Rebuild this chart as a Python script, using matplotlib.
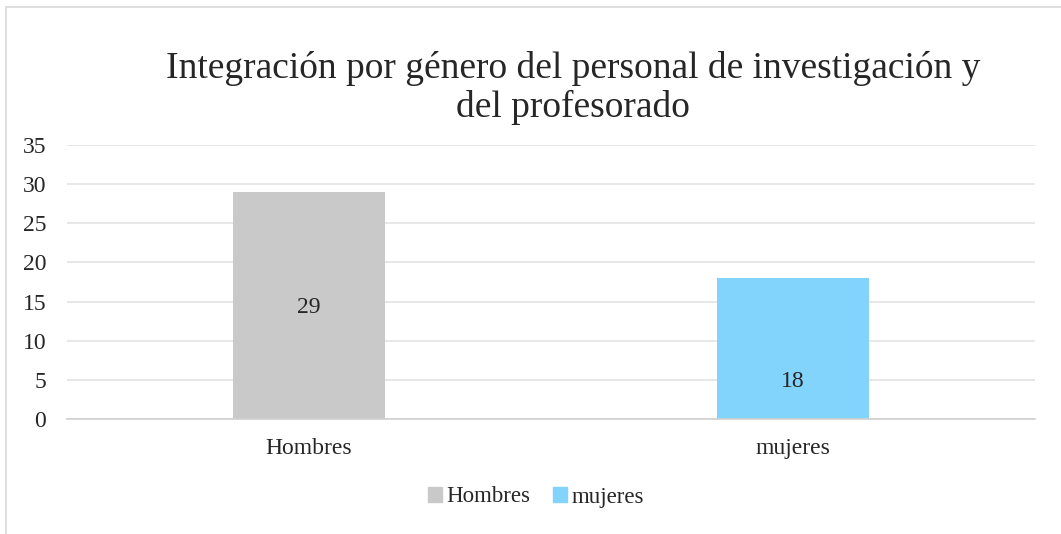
import matplotlib.pyplot as plt
from matplotlib.patches import Rectangle, Patch

categories = ['Hombres', 'mujeres']
values = [29, 18]
label_y = [14.3, 4.85]
colors = ['#c9c9c9', '#83d4fd']
yticks = [0, 5, 10, 15, 20, 25, 30, 35]

plt.rcParams['font.family'] = ['Liberation Serif', 'DejaVu Serif']

fig = plt.figure(figsize=(10.61, 5.34), dpi=100)
W, H = 1061, 534

# chart frame
fig.patches.append(Rectangle((6 / W, -0.1), 1.2, 1 - 7 / H + 0.1, transform=fig.transFigure,
                             fill=False, edgecolor='#d9d9d9', linewidth=1.2))

ax = fig.add_axes([67 / W, 1 - 419 / H, (1035 - 67) / W, (419 - 145) / H])
x = range(len(categories))
ax.bar(x, values, width=0.314, color=colors, zorder=2)
for xi, v, ly in zip(x, values, label_y):
    ax.text(xi, ly, str(v), ha='center', va='center', fontsize=17, color='#262626')

ax.set_xlim(-0.5, 1.5)
ax.set_ylim(0, 35)
ax.set_yticks(yticks)
ax.set_xticks(list(x))
ax.set_xticklabels(categories)
ax.tick_params(axis='both', length=0, labelsize=17, colors='#262626')
ax.tick_params(axis='y', pad=15)
ax.tick_params(axis='x', pad=14)
ax.grid(axis='y', color='#e3e3e3', linewidth=1.2, zorder=0)
for s in ['top', 'right', 'left']:
    ax.spines[s].set_visible(False)
ax.spines['bottom'].set_color('#d0d0d0')
ax.spines['bottom'].set_linewidth(1.2)

fig.text(573 / W, 1 - 88 / H, 'Integración por género del personal de investigación y\ndel profesorado',
         ha='center', va='center', fontsize=27, color='#262626', linespacing=1.12)

handles = [Patch(color=c) for c in colors]
fig.legend(handles, categories, loc='center', bbox_to_anchor=(536 / W, 1 - 497 / H), ncol=2,
           frameon=False, fontsize=16.5, handlelength=0.6, handleheight=0.6,
           handletextpad=0.2, columnspacing=1.0, labelcolor='#262626')

fig.savefig('out.png', dpi=100)
